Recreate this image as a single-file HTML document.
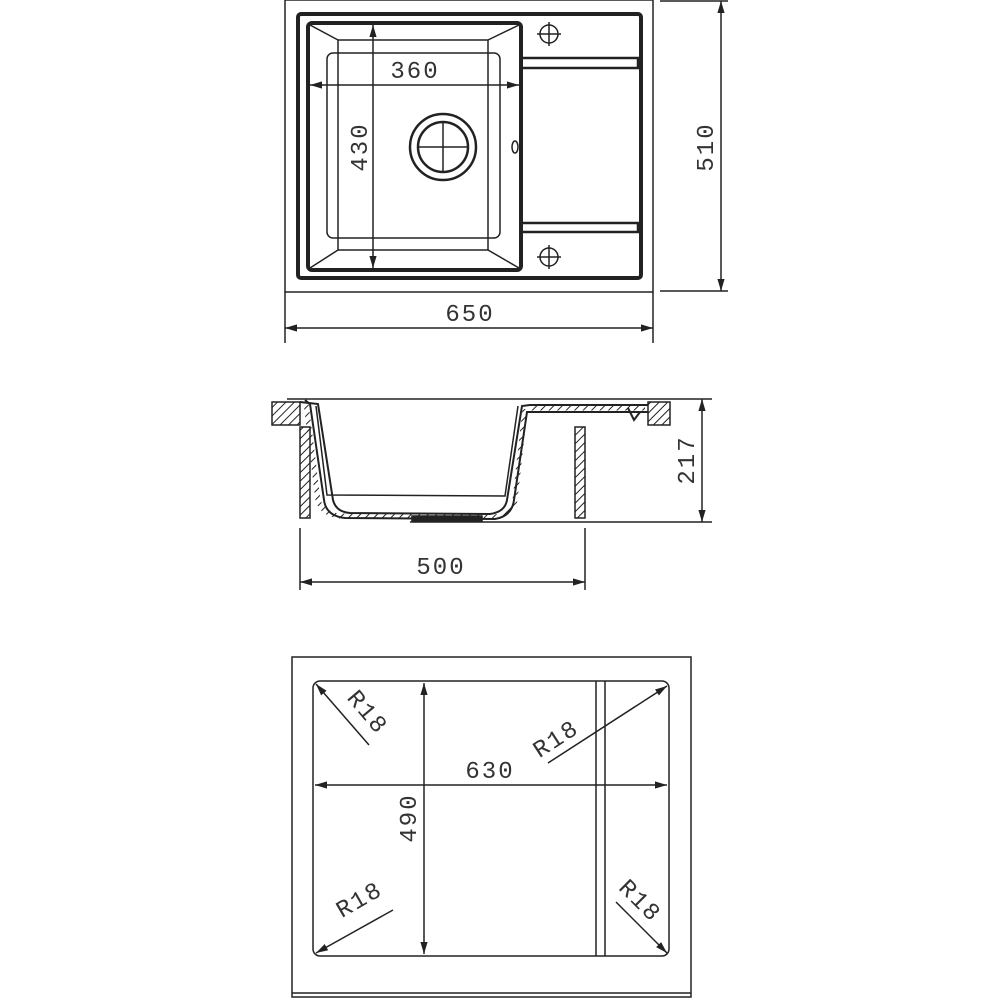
<!DOCTYPE html>
<html><head><style>html,body{margin:0;padding:0;background:#fff}svg{display:block}</style></head><body>
<svg width="1000" height="1000" viewBox="0 0 1000 1000" xmlns="http://www.w3.org/2000/svg" font-family="Liberation Mono, monospace" font-size="24" fill="none" stroke="#222">
<defs>
<marker id="a" viewBox="0 0 10 10" refX="10" refY="5" markerWidth="8" markerHeight="8" orient="auto-start-reverse"><path d="M0,2 L10,5 L0,8" fill="#222" stroke="none"/></marker>
<pattern id="h" width="6" height="6" patternUnits="userSpaceOnUse" patternTransform="rotate(45)"><line x1="0" y1="0" x2="0" y2="6" stroke="#222" stroke-width="2"/></pattern>
</defs>
<g stroke-width="1.5">
<rect x="285" y="0" width="368" height="292"/>
<rect x="298" y="14" width="343" height="264" rx="3" stroke-width="4"/>
<rect x="308" y="23" width="213" height="247" rx="4" stroke-width="4"/>
<rect x="327" y="53" width="173" height="185" rx="6"/>
<rect x="338" y="40" width="150" height="210"/>
<line x1="310" y1="25" x2="338" y2="40"/><line x1="519" y1="25" x2="488" y2="40"/>
<line x1="310" y1="268" x2="338" y2="250"/><line x1="519" y1="268" x2="488" y2="250"/>
<circle cx="443" cy="147" r="33" stroke-width="2.5"/><circle cx="443" cy="147" r="25" stroke-width="2.5"/>
<line x1="418" y1="147" x2="468" y2="147"/><line x1="443" y1="122" x2="443" y2="172"/>
<ellipse cx="515" cy="147" rx="3" ry="6"/>
<rect x="521" y="58" width="117" height="10" stroke-width="2.5"/>
<rect x="521" y="223" width="117" height="9" stroke-width="2.5"/>
<circle cx="549" cy="34" r="9"/><line x1="537" y1="34" x2="561" y2="34"/><line x1="549" y1="22" x2="549" y2="46"/>
<circle cx="549" cy="257" r="9"/><line x1="537" y1="257" x2="561" y2="257"/><line x1="549" y1="245" x2="549" y2="269"/>
<line x1="310" y1="85" x2="519" y2="85" marker-start="url(#a)" marker-end="url(#a)"/>
<line x1="373" y1="25" x2="373" y2="268" marker-start="url(#a)" marker-end="url(#a)"/>
<line x1="660" y1="1" x2="728" y2="1"/><line x1="660" y1="291" x2="728" y2="291"/>
<line x1="721" y1="1" x2="721" y2="291" marker-start="url(#a)" marker-end="url(#a)"/>
<line x1="285" y1="292" x2="285" y2="343"/><line x1="653" y1="292" x2="653" y2="343"/>
<line x1="285" y1="328" x2="653" y2="328" marker-start="url(#a)" marker-end="url(#a)"/>
<line x1="287" y1="399" x2="712" y2="399"/>
<rect x="272" y="402" width="28" height="23" fill="url(#h)"/>
<rect x="648" y="402" width="22" height="23" fill="url(#h)"/>
<rect x="300" y="427" width="10" height="91" fill="url(#h)"/>
<rect x="575" y="427" width="10" height="91" fill="url(#h)"/>
<path d="M300,402 L318,404 L333,500 Q336,512 350,513 L490,514 Q505,512 507,500 L522,406 L530,405 L648,405" stroke-width="2"/>
<path d="M305,400 L310,404 L324,500 Q326,516 345,518 L495,519 Q512,516 514,500 L527,412 L648,412" stroke-width="2"/>
<path d="M316,406 L327,495 L505,496 L518,406"/>
<path d="M306,403 L318,500 Q322,514 340,516 L495,517 Q512,515 515,500 L525,409" stroke="url(#h)" stroke-width="5"/>
<path d="M530,408 L645,408" stroke="url(#h)" stroke-width="5"/>
<rect x="412" y="516" width="70" height="5" fill="#222"/>
<path d="M628,408 L634,420 L640,412" stroke-width="2"/>
<line x1="410" y1="522" x2="712" y2="522"/>
<line x1="702" y1="399" x2="702" y2="522" marker-start="url(#a)" marker-end="url(#a)"/>
<line x1="300" y1="528" x2="300" y2="590"/><line x1="585" y1="528" x2="585" y2="590"/>
<line x1="300" y1="582" x2="585" y2="582" marker-start="url(#a)" marker-end="url(#a)"/>
<rect x="292" y="657" width="399" height="340"/>
<line x1="292" y1="993" x2="691" y2="993"/>
<rect x="313" y="681" width="356" height="275" rx="7"/>
<line x1="596" y1="681" x2="596" y2="956"/><line x1="605" y1="681" x2="605" y2="956"/>
<line x1="315" y1="785" x2="667" y2="785" marker-start="url(#a)" marker-end="url(#a)"/>
<line x1="424" y1="683" x2="424" y2="954" marker-start="url(#a)" marker-end="url(#a)"/>
<line x1="369" y1="745" x2="316" y2="684" marker-end="url(#a)"/>
<line x1="548" y1="763" x2="667" y2="686" marker-end="url(#a)"/>
<line x1="393" y1="910" x2="316" y2="953" marker-end="url(#a)"/>
<line x1="616" y1="902" x2="667" y2="953" marker-end="url(#a)"/>
</g>
<g fill="#333" stroke="none" letter-spacing="2" text-anchor="middle">
<text x="415" y="78">360</text>
<text transform="translate(367,147) rotate(-90)">430</text>
<text transform="translate(713,147) rotate(-90)">510</text>
<text x="470" y="321">650</text>
<text transform="translate(694,460) rotate(-90)">217</text>
<text x="441" y="574">500</text>
<text x="490" y="778">630</text>
<text transform="translate(416,818) rotate(-90)">490</text>
<text transform="translate(362,717) rotate(50)">R18</text>
<text transform="translate(560,745) rotate(-33)">R18</text>
<text transform="translate(363,906) rotate(-30)">R18</text>
<text transform="translate(635,906) rotate(45)">R18</text>
</g>
</svg>
</body></html>
